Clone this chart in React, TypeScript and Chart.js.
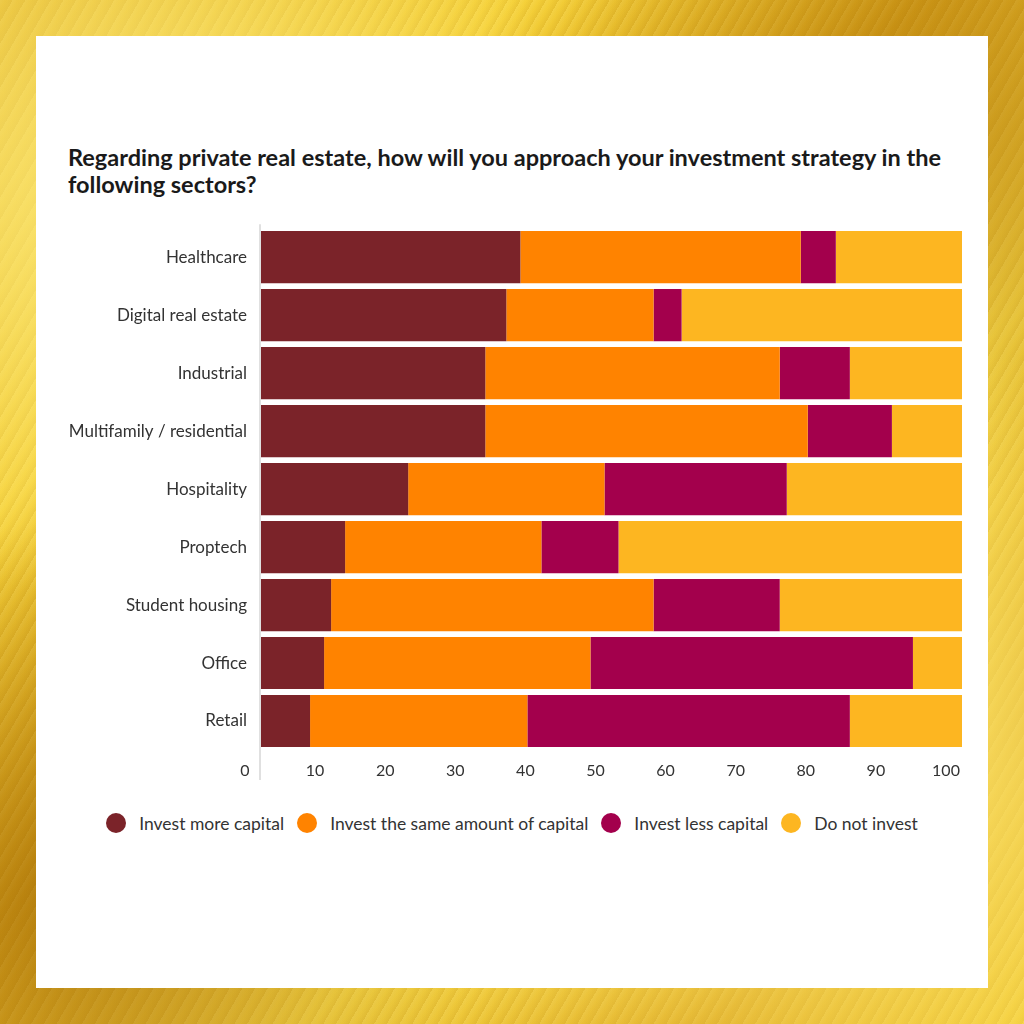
import React, { useEffect, useRef } from "react";
import { Chart, registerables } from "chart.js";

Chart.register(...registerables);

const categories = [
  "Healthcare",
  "Digital real estate",
  "Industrial",
  "Multifamily / residential",
  "Hospitality",
  "Proptech",
  "Student housing",
  "Office",
  "Retail",
];

const investMore = [37, 35, 32, 32, 21, 12, 10, 9, 7];
const investSame = [40, 21, 42, 46, 28, 28, 46, 38, 31];
const investLess = [5, 4, 10, 12, 26, 11, 18, 46, 46];
const doNotInvest = [18, 40, 16, 10, 25, 49, 26, 7, 16];

const seriesLabels = [
  "Invest more capital",
  "Invest the same amount of capital",
  "Invest less capital",
  "Do not invest",
];
const seriesColors = ["#7B2329", "#FF8300", "#A3004C", "#FDB621"];
const seriesData = [investMore, investSame, investLess, doNotInvest];

const xTicks = [0, 10, 20, 30, 40, 50, 60, 70, 80, 90, 100];

const titleLines = [
  "Regarding private real estate, how will you approach your investment strategy in the",
  "following sectors?",
];

const FONT = "Lato, 'Open Sans', sans-serif";

const axisLinePlugin = {
  id: "axisLine",
  beforeDatasetsDraw(chart: any) {
    const { ctx, chartArea, scales } = chart;
    const x = scales.x.getPixelForValue(0) - 1;
    ctx.save();
    ctx.strokeStyle = "#d6d6d6";
    ctx.lineWidth = 1.5;
    ctx.beginPath();
    ctx.moveTo(x, chartArea.top - 4);
    ctx.lineTo(x, chartArea.bottom + 30);
    ctx.stroke();
    ctx.restore();
  },
};

export default function App() {
  const canvasRef = useRef<HTMLCanvasElement | null>(null);

  useEffect(() => {
    if (!canvasRef.current) return;
    const chart = new Chart(canvasRef.current, {
      type: "bar",
      data: {
        labels: categories,
        datasets: seriesData.map((d, i) => ({
          label: seriesLabels[i],
          data: d,
          backgroundColor: seriesColors[i],
          borderWidth: 0,
          barPercentage: 0.9,
          categoryPercentage: 1,
        })),
      },
      options: {
        indexAxis: "y",
        animation: false,
        responsive: false,
        maintainAspectRatio: false,
        layout: { padding: { top: 24, right: 26, left: 0, bottom: 0 } },
        plugins: {
          legend: { display: false },
          title: { display: false },
          tooltip: { enabled: false },
        },
        scales: {
          x: {
            stacked: true,
            min: 0,
            max: 100,
            afterBuildTicks: (s: any) => {
              s.ticks = xTicks.map((v) => ({ value: v }));
            },
            afterFit: (s: any) => {
              s.height = 40;
            },
            ticks: {
              autoSkip: false,
              maxRotation: 0,
              labelOffset: -16,
              padding: 11,
              color: "#333333",
              font: { family: FONT, size: 16 },
            },
            grid: { display: false, drawTicks: false },
            border: { display: false },
          },
          y: {
            stacked: true,
            afterFit: (s: any) => {
              s.width = 221;
            },
            ticks: {
              autoSkip: false,
              padding: 14,
              color: "#333333",
              font: { family: FONT, size: 17 },
            },
            grid: { display: false, drawTicks: false },
            border: { display: false },
          },
        },
      },
      plugins: [axisLinePlugin],
    });
    return () => chart.destroy();
  }, []);

  return (
    <div
      style={{
        position: "fixed",
        left: 0,
        top: 0,
        width: 1024,
        height: 1024,
        overflow: "hidden",
        background:
          "radial-gradient(ellipse at 15% 20%, rgba(255,238,130,0.9) 0%, rgba(255,238,130,0) 35%)," +
          "radial-gradient(ellipse at 85% 75%, rgba(255,232,110,0.9) 0%, rgba(255,232,110,0) 40%)," +
          "radial-gradient(ellipse at 8% 88%, rgba(160,105,5,0.6) 0%, rgba(160,105,5,0) 30%)," +
          "radial-gradient(ellipse at 92% 12%, rgba(175,120,10,0.5) 0%, rgba(175,120,10,0) 30%)," +
          "repeating-linear-gradient(120deg, rgba(255,250,200,0.10) 0px, rgba(255,255,255,0) 5px, rgba(140,90,0,0.10) 11px)," +
          "linear-gradient(135deg, #e2b21f 0%, #f6d23a 25%, #d6a01a 45%, #f8da48 65%, #dca61d 85%, #f3cc34 100%)",
        fontFamily: FONT,
      }}
    >
      <div
        style={{
          position: "absolute",
          left: 36,
          top: 36,
          width: 952,
          height: 952,
          background: "#ffffff",
        }}
      />
      <div
        style={{
          position: "absolute",
          left: 68,
          top: 144,
          fontFamily: FONT,
          fontWeight: 700,
          fontSize: 23.5,
          lineHeight: "27px",
          color: "#1a1a1a",
          whiteSpace: "nowrap",
        }}
      >
        {titleLines.map((t, i) => (
          <div key={i}>{t}</div>
        ))}
      </div>
      <canvas
        ref={canvasRef}
        width={948}
        height={586}
        style={{ position: "absolute", left: 40, top: 204, width: 948, height: 586 }}
      />
      <div
        style={{
          position: "absolute",
          left: 36,
          width: 952,
          top: 812,
          height: 22,
          display: "flex",
          justifyContent: "center",
          alignItems: "center",
        }}
      >
        {seriesLabels.map((l, i) => (
          <div
            key={i}
            style={{
              display: "flex",
              alignItems: "center",
              marginRight: i < seriesLabels.length - 1 ? 13 : 0,
            }}
          >
            <div
              style={{
                width: 20,
                height: 20,
                borderRadius: "50%",
                background: seriesColors[i],
                marginRight: 13,
              }}
            />
            <span style={{ fontSize: 17.5, color: "#333333", fontFamily: FONT }}>{l}</span>
          </div>
        ))}
      </div>
    </div>
  );
}
